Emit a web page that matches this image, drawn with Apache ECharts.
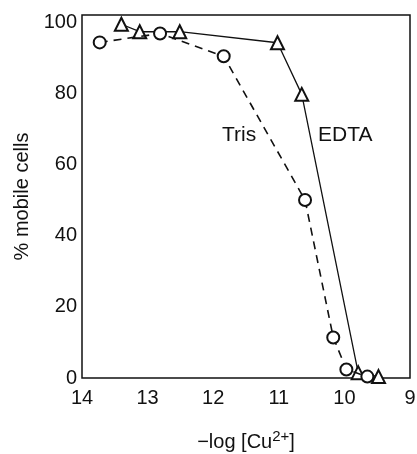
<!DOCTYPE html>
<html><head><meta charset="utf-8">
<script src="https://cdn.jsdelivr.net/npm/echarts@6/dist/echarts.min.js"></script>
<style>html,body{margin:0;padding:0;background:#fff}#c{width:417px;height:454px}</style>
</head><body><div id="c"></div>
<script>
const trisX = [13.73, 12.81, 11.84, 10.60, 10.17, 9.97, 9.65];
const trisY = [94.3, 96.8, 90.4, 50.0, 11.4, 2.4, 0.4];
const edtaX = [13.40, 13.12, 12.51, 11.02, 10.65, 9.79, 9.48];
const edtaY = [99.4, 97.3, 97.3, 94.2, 79.7, 1.5, 0.4];
const xTicks = [9, 10, 11, 12, 13, 14];
const yTicks = [0, 20, 40, 60, 80, 100];
const seriesNames = ['Tris', 'EDTA'];

const FONT = '"Liberation Sans", Arial, sans-serif';
const chart = echarts.init(document.getElementById('c'), null, {renderer: 'canvas'});
const pair = (xs, ys) => xs.map((x, i) => [x, ys[i]]);

chart.setOption({
  animation: false,
  backgroundColor: '#fff',
  grid: {left: 82, right: 7, top: 15, bottom: 76, outerBoundsMode: 'none', containLabel: false,
    show: true, borderColor: '#111', borderWidth: 1.5, backgroundColor: 'transparent'},
  xAxis: {
    type: 'value', min: 9, max: 14, interval: 1, inverse: true,
    axisLine: {show: false}, axisTick: {show: false}, splitLine: {show: false},
    axisLabel: {color: '#111', fontSize: 20, fontFamily: FONT, margin: 10,
      formatter: v => xTicks.includes(v) ? String(v) : ''},
    name: '{a|\u2212log [Cu}{s|2+}{a|]}', nameLocation: 'middle', nameGap: 51,
    nameTextStyle: {rich: {
      a: {fontSize: 20, fontFamily: FONT, color: '#111', verticalAlign: 'bottom'},
      s: {fontSize: 15, fontFamily: FONT, color: '#111', verticalAlign: 'top', padding: [0,0,8,0]}
    }}
  },
  yAxis: {
    type: 'value', min: 0, max: 102, interval: 20,
    axisLine: {show: false}, axisTick: {show: false}, splitLine: {show: false},
    axisLabel: {color: '#111', fontSize: 20, fontFamily: FONT, margin: 5,
      formatter: v => yTicks.includes(v) ? String(v) : ''},
    name: '% mobile cells', nameLocation: 'middle', nameGap: 43,
    nameTextStyle: {fontSize: 20, fontFamily: FONT, color: '#111'}
  },
  series: [
    {name: seriesNames[0], type: 'line', data: pair(trisX, trisY),
      symbol: 'emptyCircle', symbolSize: 12,
      lineStyle: {color: '#111', width: 1.6, type: [8, 6]},
      itemStyle: {color: '#111', borderColor: '#111', borderWidth: 1.5}, z: 3},
    {name: seriesNames[1], type: 'line', data: pair(edtaX, edtaY),
      symbol: 'emptyTriangle', symbolSize: 13,
      lineStyle: {color: '#111', width: 1.3},
      itemStyle: {color: '#111', borderColor: '#111', borderWidth: 1.5}, z: 2}
  ],
  graphic: [
    {type: 'text', left: 222, top: 125, style: {text: seriesNames[0], font: '21px ' + FONT, fill: '#111'}},
    {type: 'text', left: 318, top: 125, style: {text: seriesNames[1], font: '21px ' + FONT, fill: '#111'}}
  ]
});
</script>
</body></html>
